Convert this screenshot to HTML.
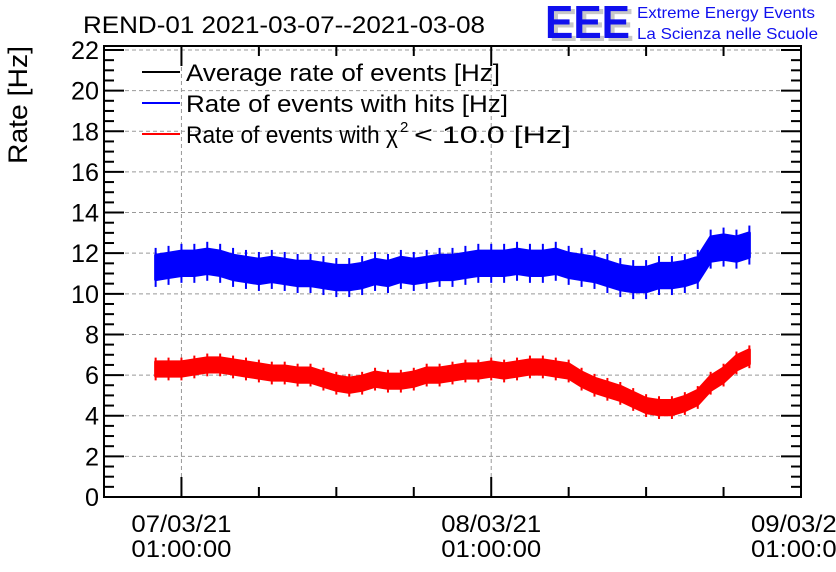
<!DOCTYPE html>
<html><head><meta charset="utf-8"><style>
html,body{margin:0;padding:0;background:#fff}
svg{display:block;font-family:"Liberation Sans",sans-serif}
</style></head><body>
<svg id="chart" width="836" height="572" viewBox="0 0 836 572">
<g id="grid"></g>
<g id="series"></g>
<g id="axes"></g>
<text x="83" y="33" font-size="24" textLength="402" lengthAdjust="spacingAndGlyphs">REND-01 2021-03-07--2021-03-08</text>
<text transform="translate(27,105) rotate(-90)" text-anchor="middle" font-size="27" textLength="118" lengthAdjust="spacingAndGlyphs">Rate [Hz]</text>
<g>
<text x="549" y="41" font-size="46" fill="#c8c8c8" font-weight="bold" textLength="85" lengthAdjust="spacingAndGlyphs">EEE</text>
<text x="545" y="38" font-size="46" fill="#1010ee" font-weight="bold" textLength="85" lengthAdjust="spacingAndGlyphs">EEE</text>
<text x="637" y="18" font-size="16" fill="#1010ee" textLength="178" lengthAdjust="spacingAndGlyphs">Extreme Energy Events</text>
<text x="637" y="39" font-size="16" fill="#1010ee" textLength="181" lengthAdjust="spacingAndGlyphs">La Scienza nelle Scuole</text>
</g>
<g>
<line x1="142" y1="72" x2="180" y2="72" stroke="#000" stroke-width="2"/>
<text x="186" y="81" font-size="24" textLength="314" lengthAdjust="spacingAndGlyphs">Average rate of events [Hz]</text>
<line x1="142" y1="103" x2="180" y2="103" stroke="#0000ff" stroke-width="2"/>
<text x="186" y="112" font-size="24" textLength="322" lengthAdjust="spacingAndGlyphs">Rate of events with hits [Hz]</text>
<line x1="142" y1="134" x2="180" y2="134" stroke="#ff0000" stroke-width="2"/>
<g>
<text x="186" y="143" font-size="24" textLength="212" lengthAdjust="spacingAndGlyphs">Rate of events with χ</text>
<text x="400" y="132" font-size="15">2</text>
<text x="414" y="143" font-size="24" textLength="157" lengthAdjust="spacingAndGlyphs">&lt; 10.0 [Hz]</text>
</g>
</g>
</svg>
<script>
// hours since 06/03 19:00 for first sample; hourly samples
const startHour = 4;
const blueRate = [11.3,11.4,11.5,11.5,11.6,11.5,11.3,11.2,11.1,11.2,11.1,11.0,11.0,10.9,10.8,10.8,10.9,11.1,11.0,11.2,11.1,11.2,11.3,11.3,11.4,11.5,11.5,11.5,11.6,11.5,11.5,11.6,11.4,11.3,11.2,11.0,10.8,10.7,10.7,10.9,10.9,11.0,11.2,12.2,12.3,12.2,12.4];
const redRate = [6.3,6.3,6.3,6.4,6.5,6.5,6.4,6.3,6.2,6.1,6.1,6.0,6.0,5.8,5.6,5.5,5.6,5.8,5.7,5.7,5.8,6.0,6.0,6.1,6.2,6.2,6.3,6.2,6.3,6.4,6.4,6.3,6.2,5.8,5.5,5.3,5.1,4.8,4.5,4.4,4.4,4.6,4.9,5.6,6.0,6.6,6.9];
const blueSpread = [0.6];
const redSpread = [0.35];
const yTicks = [0,2,4,6,8,10,12,14,16,18,20,22];
const xTickLabels = [["07/03/21","01:00:00"],["08/03/21","01:00:00"],["09/03/21","01:00:00"]];
const xTickHours = [6,30,54];

const NS="http://www.w3.org/2000/svg";
const L=104,R=801,T=46,B=497;
const hourSpan=54;
const X=h=>L+(h/hourSpan)*(R-L);
const Y=v=>B-v*(B-50)/22;
function mk(tag,attrs,parent){const e=document.createElementNS(NS,tag);for(const k in attrs)e.setAttribute(k,attrs[k]);parent.appendChild(e);return e;}
const grid=document.getElementById('grid'),series=document.getElementById('series'),axes=document.getElementById('axes');

yTicks.forEach(v=>{if(v===0)return;
 const g=mk('line',{x1:L,x2:R,y1:Y(v),y2:Y(v),stroke:'#999','stroke-dasharray':'4,3','stroke-width':1},grid);
 
 });
xTickHours.forEach(h=>{if(X(h)>=R-1)return;
 const g=mk('line',{x1:X(h),x2:X(h),y1:T,y2:B,stroke:'#999','stroke-dasharray':'4,3','stroke-width':1},grid);
 
 });

function band(vals,spread,color,name){
 const up=vals.map((v,i)=>X(startHour+i)+','+Y(v+spread));
 const dn=vals.map((v,i)=>X(startHour+i)+','+Y(v-spread)).reverse();
 const p=mk('polygon',{points:up.concat(dn).join(' '),fill:color,stroke:color,'stroke-width':3,'stroke-linejoin':'round'},series);
 
 
 vals.forEach((v,i)=>{
  const s=mk('line',{x1:X(startHour+i),x2:X(startHour+i),y1:Y(v+spread*1.6),y2:Y(v-spread*1.6),stroke:color,'stroke-width':2},series);
  
  
 });
}
band(blueRate,blueSpread[0],'#0000ff','hits-rate');
band(redRate,redSpread[0],'#ff0000','chi2-rate');

const fr=mk('rect',{x:L,y:T,width:R-L,height:B-T,fill:'none',stroke:'#000','stroke-width':2},axes);


for(let v=0;v<=22;v+=0.5){const maj=v%2===0;const len=maj?20:10;
 const a=mk('line',{x1:L,x2:L+len,y1:Y(v),y2:Y(v),stroke:'#000','stroke-width':2},axes);
 
 
 const b=mk('line',{x1:R-len,x2:R,y1:Y(v),y2:Y(v),stroke:'#000','stroke-width':2},axes);
 
 }
yTicks.forEach(v=>{const s=String(v);const t=mk('text',{x:L-5,y:Y(v)+9,'text-anchor':'end','font-size':25,textLength:s.length*14,lengthAdjust:'spacingAndGlyphs'},axes);t.textContent=s;
 
 });
for(let h=0;h<=hourSpan;h+=6){const maj=xTickHours.includes(h);const len=maj?20:10;
 const a=mk('line',{x1:X(h),x2:X(h),y1:B,y2:B-len,stroke:'#000','stroke-width':2},axes);
 
 
 const b=mk('line',{x1:X(h),x2:X(h),y1:T,y2:T+len,stroke:'#000','stroke-width':2},axes);
 
 }
xTickLabels.forEach((lab,i)=>{lab.forEach((s,j)=>{
 const t=mk('text',{x:X(xTickHours[i])-50,y:532+j*25,'font-size':24,textLength:100,lengthAdjust:'spacingAndGlyphs'},axes);t.textContent=s;
 
 });});
</script>
</body></html>
